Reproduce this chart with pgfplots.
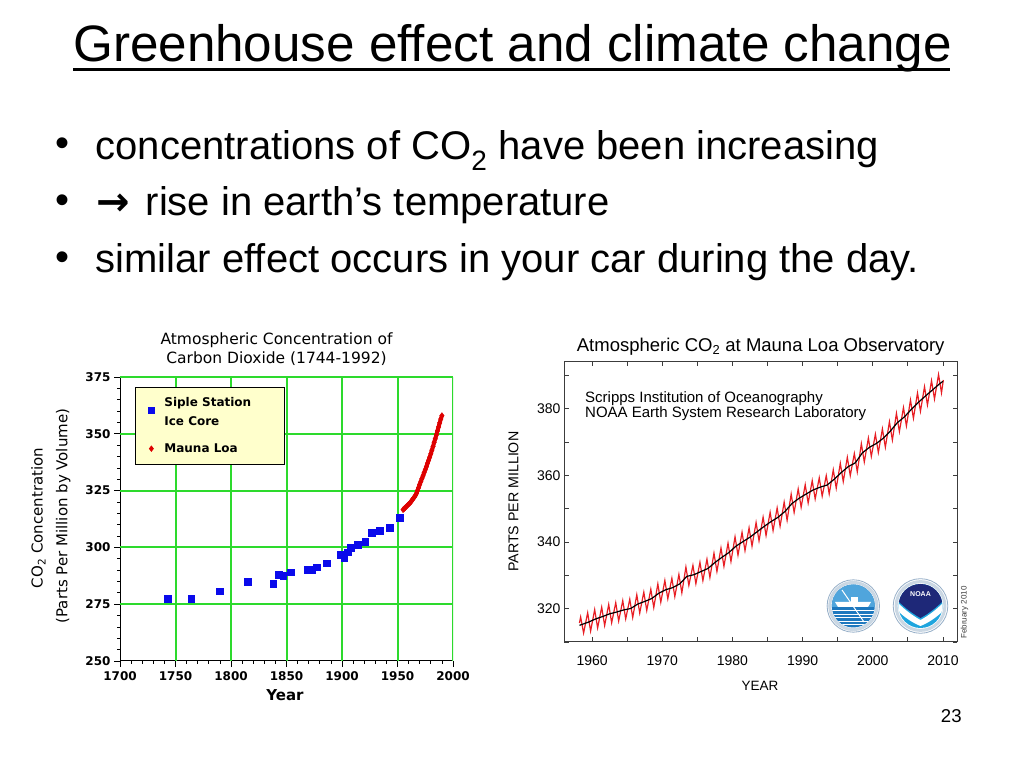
\documentclass[border=0pt]{standalone}
\usepackage{pgfplots}
\pgfplotsset{compat=1.18}
\usepackage{fontspec}
\setmainfont{Liberation Sans}
\newfontfamily\djv{DejaVu Sans}
\newfontfamily\arrowfont{DejaVu Sans}

\definecolor{gridgreen}{RGB}{45,218,45}
\definecolor{legyellow}{RGB}{255,255,204}
\definecolor{sqblue}{RGB}{10,10,235}
\definecolor{dred}{RGB}{222,0,0}
\definecolor{mlred}{RGB}{232,30,36}
\definecolor{frame}{RGB}{60,60,60}
\definecolor{logoring}{RGB}{150,175,200}
\definecolor{scrippsblue}{RGB}{30,120,190}
\definecolor{scrippssky}{RGB}{80,165,220}
\definecolor{noaacyan}{RGB}{30,165,222}
\definecolor{noaanavy}{RGB}{30,40,120}

\pgfplotsset{
  legsq/.style={legend image code/.code={\path[draw=none,fill=none] (0bp,0bp) rectangle (16bp,0.1bp); \draw[##1, overlay] plot coordinates {(8bp,-7.2bp)};}},
  legdia/.style={legend image code/.code={\path[draw=none,fill=none] (0bp,0bp) rectangle (16bp,0.1bp); \draw[##1, overlay, mark size=2.6bp] plot coordinates {(8bp,0bp)};}},
}

\pgfplotstableread{
x y
1743 277.5
1764 277.5
1790 280.7
1815 284.9
1838 284.0
1843 287.9
1847 287.5
1854 289.0
1869 290.3
1873 290.3
1877 291.2
1886 293.1
1899 296.8
1902 295.4
1905 297.8
1908 299.9
1914 301.3
1921 302.4
1927 306.5
1934 307.4
1943 308.7
1952 313.2
}\siple

\pgfplotstableread{
x y
1955 316.6
1956 317.0
1957 317.5
1958 318.0
1959 318.5
1960 319.0
1961 319.4
1962 320.0
1963 320.7
1964 321.4
1965 322.0
1966 322.8
1967 323.7
1968 325.0
1969 326.3
1970 327.7
1971 329.0
1972 330.3
1973 331.5
1974 332.9
1975 334.2
1976 335.5
1977 337.0
1978 338.3
1979 339.7
1980 341.2
1981 342.8
1982 344.4
1983 346.2
1984 347.8
1985 349.5
1986 351.3
1987 353.0
1988 354.8
1989 356.5
1990 358.0
}\maunaleft

\pgfplotstableread{
x y
1958.20 315.7
1958.37 317.5
1958.79 312.7
1959.37 318.77
1959.79 313.27
1960.37 319.71
1960.79 314.21
1961.37 320.44
1961.79 314.94
1962.37 321.25
1962.79 315.75
1963.37 321.79
1963.79 316.29
1964.37 322.42
1964.79 316.92
1965.37 322.84
1965.79 317.34
1966.37 324.18
1966.79 318.68
1967.37 324.96
1967.79 319.46
1968.37 325.84
1968.79 320.34
1969.37 327.42
1969.79 321.92
1970.37 328.48
1970.79 322.98
1971.37 329.12
1971.79 323.62
1972.37 330.25
1972.79 324.75
1973.37 332.48
1973.79 326.98
1974.37 332.98
1974.79 327.48
1975.37 333.91
1975.79 328.41
1976.37 334.84
1976.79 329.34
1977.37 336.63
1977.79 331.13
1978.37 338.20
1978.79 332.70
1979.37 339.64
1979.79 334.14
1980.37 341.55
1980.79 336.05
1981.37 342.91
1981.79 337.41
1982.37 344.25
1982.79 338.75
1983.37 345.85
1983.79 340.35
1984.37 347.45
1984.79 341.95
1985.37 348.92
1985.79 343.42
1986.37 350.22
1986.79 344.72
1987.37 351.99
1987.79 346.49
1988.37 354.37
1988.79 348.87
1989.37 355.92
1989.79 350.42
1990.37 357.19
1990.79 351.69
1991.37 358.41
1991.79 352.91
1992.37 359.25
1992.79 353.75
1993.37 359.90
1993.79 354.40
1994.37 361.63
1994.79 356.13
1995.37 363.62
1995.79 358.12
1996.37 365.41
1996.79 359.91
1997.37 366.53
1997.79 361.03
1998.37 369.50
1998.79 364.00
1999.37 371.18
1999.79 365.68
2000.37 372.35
2000.79 366.85
2001.37 373.94
2001.79 368.44
2002.37 376.08
2002.79 370.58
2003.37 378.60
2003.79 373.10
2004.37 380.32
2004.79 374.82
2005.37 382.60
2005.79 377.10
2006.37 384.70
2006.79 379.20
2007.37 386.59
2007.79 381.09
2008.37 388.40
2008.79 382.90
2009.37 390.23
2009.79 384.73
2010.05 388.6
}\monthly

\pgfplotstableread{
x y
1958.2 315.0
1959.5 315.97
1960.5 316.91
1961.5 317.64
1962.5 318.45
1963.5 318.99
1964.5 319.62
1965.5 320.04
1966.5 321.38
1967.5 322.16
1968.5 323.04
1969.5 324.62
1970.5 325.68
1971.5 326.32
1972.5 327.45
1973.5 329.68
1974.5 330.18
1975.5 331.11
1976.5 332.04
1977.5 333.83
1978.5 335.40
1979.5 336.84
1980.5 338.75
1981.5 340.11
1982.5 341.45
1983.5 343.05
1984.5 344.65
1985.5 346.12
1986.5 347.42
1987.5 349.19
1988.5 351.57
1989.5 353.12
1990.5 354.39
1991.5 355.61
1992.5 356.45
1993.5 357.10
1994.5 358.83
1995.5 360.82
1996.5 362.61
1997.5 363.73
1998.5 366.70
1999.5 368.38
2000.5 369.55
2001.5 371.14
2002.5 373.28
2003.5 375.80
2004.5 377.52
2005.5 379.80
2006.5 381.90
2007.5 383.79
2008.5 385.60
2009.5 387.43
2010.0 388.2
}\trend

\begin{document}
\begin{tikzpicture}[x=1bp,y=1bp]
\useasboundingbox (0,0) rectangle (1024,768);
\fill[white] (0,0) rectangle (1024,768);

% ---- slide text ----
\node[anchor=base west, inner sep=0, font=\fontsize{51.2bp}{60bp}\selectfont] at (73,706.3) {Greenhouse effect and climate change};
\draw[black, line width=3bp] (73,698) -- (950,698);

\begin{scope}[every node/.style={anchor=base west, inner sep=0, font=\fontsize{40bp}{46bp}\selectfont}]
\node at (55,611) {•};
\node at (95.5,608.7) {concentrations of CO\textsubscript{2} have been increasing};
\node at (55,554.6) {•};
\node[font=\arrowfont\bfseries\fontsize{40bp}{44bp}\selectfont] at (96.5,552.3) {→};
\node at (145.5,552.3) {rise in earth’s temperature};
\node at (55,497.6) {•};
\node at (95.5,495.3) {similar effect occurs in your car during the day.};
\end{scope}
\node[anchor=base west, inner sep=0, font=\fontsize{18.6bp}{22bp}\selectfont] at (940.7,45) {23};

% ---- left chart ----
\begin{axis}[
  at={(120bp,107bp)}, anchor=south west, scale only axis,
  width=333bp, height=284bp,
  xmin=1700, xmax=2000, ymin=250, ymax=375,
  xtick={1700,1750,...,2000}, ytick={250,275,...,375},
  minor x tick num=4, minor y tick num=4,
  axis x line*=bottom, axis y line*=left,
  axis line style={-, black, line width=1bp},
  every outer x axis line/.append style={-},
  every outer y axis line/.append style={-},
  grid=none,
  tick align=outside, major tick length=6bp, minor tick length=3bp,
  major tick style={black, line width=0.8bp},
  minor tick style={black, line width=0.7bp},
  ticklabel style={font=\djv\bfseries\fontsize{12bp}{14bp}\selectfont},
  xticklabel style={yshift=-1bp},
  /pgf/number format/1000 sep={},
  /pgf/number format/assume math mode=true,
  legend style={at={(0.045,0.965)}, anchor=north west, fill=legyellow, draw=black,
     line width=0.8bp, inner xsep=8bp, inner ysep=15bp, row sep=21.3bp,
     font=\djv\bfseries\fontsize{12bp}{14bp}\selectfont,
     nodes={inner xsep=5bp, inner ysep=0bp}},
  legend cell align=left,
]
\pgfplotsinvokeforeach{1750,1800,1850,1900,1950,2000}{
  \draw[gridgreen, line width=2bp] (axis cs:#1,250) -- (axis cs:#1,375);
}
\pgfplotsinvokeforeach{275,300,325,350,375}{
  \draw[gridgreen, line width=2bp] (axis cs:1700,#1) -- (axis cs:2000,#1);
}
\addplot[only marks, mark=square*, mark size=3.3bp, mark options={draw=sqblue, fill=sqblue}, legsq] table {\siple};
\addlegendentry{\makebox[107bp][l]{\smash{\raisebox{-4.6bp}{Siple Station}}}}
\addlegendimage{empty legend}
\addlegendentry{\makebox[107bp][l]{\smash{Ice Core}}}
\addplot[forget plot, color=dred, line width=4bp] table {\maunaleft};
\addplot[only marks, mark=diamond*, mark size=3bp, mark options={draw=dred, fill=dred}, legdia] table {\maunaleft};
\addlegendentry{\makebox[107bp][l]{\smash{\raisebox{-5bp}{Mauna Loa}}}}
\end{axis}

\node[anchor=base, inner sep=0, font=\djv\fontsize{15.5bp}{18bp}\selectfont] at (276.5,423.7) {Atmospheric Concentration of};
\node[anchor=base, inner sep=0, font=\djv\fontsize{15.5bp}{18bp}\selectfont] at (276.5,404.7) {Carbon Dioxide (1744-1992)};
\node[anchor=base, inner sep=0, font=\djv\bfseries\fontsize{15bp}{18bp}\selectfont] at (285,67) {Year};
\node[anchor=base, rotate=90, inner sep=0, font=\djv\fontsize{15bp}{18bp}\selectfont] at (42.7,250) {CO\textsubscript{2} Concentration};
\node[anchor=base, rotate=90, inner sep=0, font=\djv\fontsize{15bp}{18bp}\selectfont] at (67.3,252) {(Parts Per Million by Volume)};

% ---- right chart ----
\begin{axis}[
  at={(564bp,126bp)}, anchor=south west, scale only axis,
  width=393bp, height=280bp,
  xmin=1956, xmax=2012, ymin=310, ymax=394,
  xtick={1960,1970,...,2010}, minor xtick={1965,1975,...,2005},
  ytick={320,340,360,380}, minor ytick={310,330,...,390},
  tick align=inside, major tick length=4.5bp, minor tick length=4.5bp,
  axis line style={draw=frame, line width=1bp},
  tick style={frame, line width=0.8bp},
  ticklabel style={font=\fontsize{14bp}{16bp}\selectfont},
  xticklabel style={yshift=-10bp},
  /pgf/number format/1000 sep={},
  /pgf/number format/assume math mode=true,
]
\addplot[color=mlred, line width=1.2bp] table {\monthly};
\addplot[color=black, line width=1.2bp] table {\trend};
\end{axis}

\node[anchor=base west, inner sep=0, font=\fontsize{18.5bp}{22bp}\selectfont] at (576.7,416.3) {Atmospheric CO\textsubscript{2} at Mauna Loa Observatory};
\node[anchor=base west, inner sep=0, font=\fontsize{15bp}{18bp}\selectfont] at (585,365.7) {Scripps Institution of Oceanography};
\node[anchor=base west, inner sep=0, font=\fontsize{15bp}{18bp}\selectfont] at (585,350.3) {NOAA Earth System Research Laboratory};
\node[anchor=base, inner sep=0, font=\fontsize{13.5bp}{16bp}\selectfont] at (760,77.3) {YEAR};
\node[anchor=base, rotate=90, inner sep=0, font=\fontsize{14.2bp}{17bp}\selectfont] at (518.3,266.3) {PARTS PER MILLION};
\node[anchor=base, rotate=90, inner sep=0, text=frame, font=\fontsize{8bp}{10bp}\selectfont] at (966.7,155.5) {February 2010};

% ---- logos ----
\fill[white] (853.3,162) circle (26.7);
\draw[logoring, line width=0.8bp] (853.3,162) circle (26.2);
\draw[logoring!50, line width=3bp] (853.3,162) circle (23.6);
\begin{scope}
  \clip (853.3,162) circle (21.5);
  \fill[scrippsblue] (830,140) rectangle (877,184);
  \fill[scrippssky] (830,161) rectangle (877,184);
  \foreach \yy in {157.5,154,150.5,147,143.5} {\draw[white, line width=0.9bp] (830,\yy) -- (877,\yy);}
  \fill[white] (838,161) -- (868,161) -- (871,166) -- (835,166) -- cycle;
  \fill[white] (851,166) rectangle (858,171);
  \draw[white, line width=1bp] (842,178) -- (864,146);
\end{scope}

\fill[white] (920.5,162) circle (27.8);
\draw[logoring, line width=0.8bp] (920.5,162) circle (27.3);
\draw[logoring!50, line width=3bp] (920.5,162) circle (24.4);
\begin{scope}
  \clip (920.5,162) circle (22);
  \fill[noaacyan] (897,139) rectangle (944,185);
  \fill[noaanavy] (897,185) -- (944,185) -- (944,168) .. controls (936,160) and (928,154) .. (920.5,150) .. controls (913,154) and (905,160) .. (897,168) -- cycle;
  \fill[white] (897,166) .. controls (905,158) and (913,152) .. (920.5,148) .. controls (928,152) and (936,158) .. (944,166) -- (944,158) .. controls (936,150) and (928,145) .. (920.5,142) .. controls (913,145) and (905,150) .. (897,158) -- cycle;
\end{scope}
\node[white, inner sep=0, font=\bfseries\fontsize{7bp}{8bp}\selectfont] at (920.5,174) {NOAA};
\end{tikzpicture}
\end{document}
